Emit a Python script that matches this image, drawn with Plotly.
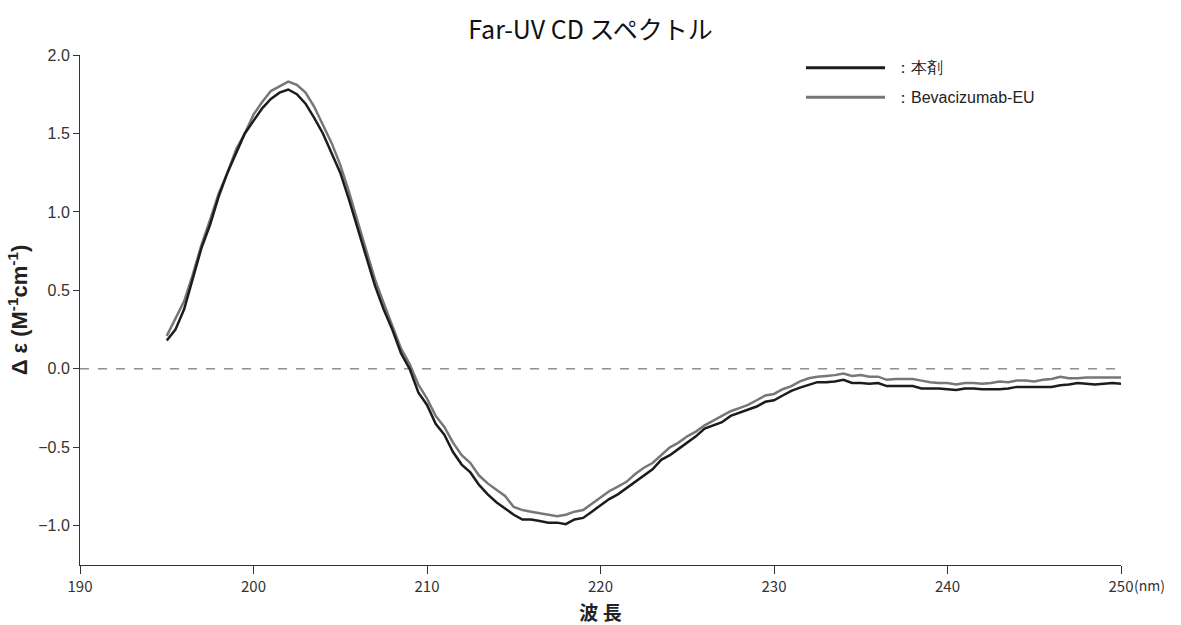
import plotly.graph_objects as go

wavelength = [195 + 0.5 * i for i in range(111)]

honzai = [
    0.18, 0.25, 0.38, 0.58, 0.77, 0.92, 1.10, 1.25, 1.37, 1.50,
    1.58, 1.66, 1.72, 1.76, 1.78, 1.75, 1.69, 1.60, 1.50, 1.38,
    1.25, 1.08, 0.90, 0.72, 0.53, 0.38, 0.25, 0.10, 0.00, -0.15,
    -0.23, -0.35, -0.42, -0.53, -0.61, -0.66, -0.74, -0.80, -0.85, -0.89,
    -0.93, -0.96, -0.96, -0.97, -0.98, -0.98, -0.99, -0.96, -0.95, -0.91,
    -0.87, -0.83, -0.80, -0.76, -0.72, -0.68, -0.64, -0.58, -0.55, -0.51,
    -0.47, -0.43, -0.38, -0.36, -0.34, -0.30, -0.28, -0.26, -0.24, -0.21,
    -0.20, -0.17, -0.14, -0.12, -0.10, -0.085, -0.085, -0.08, -0.07, -0.09,
    -0.09, -0.095, -0.09, -0.11, -0.11, -0.11, -0.11, -0.125, -0.125, -0.125,
    -0.13, -0.135, -0.125, -0.125, -0.13, -0.13, -0.13, -0.125, -0.115, -0.115,
    -0.115, -0.115, -0.115, -0.105, -0.10, -0.09, -0.095, -0.10, -0.095, -0.09,
    -0.095,
]

bevacizumab = [
    0.21, 0.32, 0.43, 0.60, 0.79, 0.95, 1.12, 1.25, 1.40, 1.50,
    1.62, 1.70, 1.77, 1.80, 1.83, 1.81, 1.76, 1.67, 1.56, 1.44,
    1.30, 1.13, 0.94, 0.76, 0.57, 0.42, 0.28, 0.13, 0.03, -0.10,
    -0.19, -0.30, -0.37, -0.47, -0.55, -0.60, -0.68, -0.73, -0.77, -0.81,
    -0.88, -0.90, -0.91, -0.92, -0.93, -0.94, -0.93, -0.91, -0.90, -0.86,
    -0.82, -0.78, -0.75, -0.72, -0.67, -0.63, -0.60, -0.55, -0.50, -0.47,
    -0.43, -0.40, -0.36, -0.33, -0.30, -0.27, -0.25, -0.23, -0.20, -0.17,
    -0.16, -0.13, -0.11, -0.08, -0.06, -0.05, -0.045, -0.04, -0.03, -0.045,
    -0.04, -0.05, -0.05, -0.07, -0.065, -0.065, -0.065, -0.075, -0.085, -0.09,
    -0.09, -0.10, -0.09, -0.09, -0.095, -0.09, -0.08, -0.085, -0.075, -0.075,
    -0.08, -0.07, -0.065, -0.05, -0.06, -0.06, -0.055, -0.055, -0.055, -0.055,
    -0.055,
]

series_names = ["：本剤", "：Bevacizumab-EU"]
series_colors = ["#1c1c1c", "#777777"]
x_ticks = [190, 200, 210, 220, 230, 240, 250]
y_ticks = [-1.0, -0.5, 0.0, 0.5, 1.0, 1.5, 2.0]

CJK = "Noto Sans CJK JP"
SANS = "Liberation Sans, Arial, sans-serif"

fig = go.Figure()
fig.add_trace(go.Scatter(x=wavelength, y=bevacizumab, mode="lines",
                         line=dict(color=series_colors[1], width=2.5),
                         name=series_names[1], showlegend=False))
fig.add_trace(go.Scatter(x=wavelength, y=honzai, mode="lines",
                         line=dict(color=series_colors[0], width=2.5),
                         name=series_names[0], showlegend=False))

# zero dashed line
fig.add_shape(type="line", xref="x", yref="y", x0=190, x1=250, y0=0, y1=0,
              line=dict(color="#555555", width=1, dash="dash"), layer="below")

# legend drawn manually
leg_y = [0.975, 0.917]
for i in range(2):
    fig.add_shape(type="line", xref="paper", yref="paper",
                  x0=(806 - 80) / 1041, x1=(885 - 80) / 1041, y0=leg_y[i], y1=leg_y[i],
                  line=dict(color=series_colors[i], width=3))
    fig.add_annotation(xref="paper", yref="paper", x=(893 - 80) / 1041, y=leg_y[i],
                       text=series_names[i], showarrow=False, xanchor="left",
                       yanchor="middle", font=dict(family=SANS, size=16, color="#222222"))

# (nm) label
fig.add_annotation(xref="paper", yref="paper", x=1.0, y=0, xshift=11, yshift=-20,
                   text="(nm)", showarrow=False, xanchor="left", yanchor="middle",
                   font=dict(family=CJK, size=14, color="#333333"))

fig.update_layout(
    width=1181, height=625,
    margin=dict(l=80, r=60, t=55, b=60, autoexpand=False),
    paper_bgcolor="white", plot_bgcolor="white",
    title=dict(text="Far-UV CD スペクトル", x=0.5, xanchor="center", y=0.952,
               yanchor="middle", font=dict(family=CJK, size=25, color="#111111")),
    font=dict(family=CJK, color="#333333"),
    xaxis=dict(range=[190, 250], tickvals=x_ticks, ticks="outside", ticklen=8,
               tickcolor="#333333", showline=True, linecolor="#333333", linewidth=1,
               showgrid=False, zeroline=False, automargin=False,
               tickfont=dict(family=CJK, size=15, color="#333333"),
               title=dict(text="<b>波 長</b>", standoff=12,
                          font=dict(family=CJK, size=19, color="#222222"))),
    yaxis=dict(range=[-1.25, 2.0], tickvals=y_ticks, tickformat=".1f", ticks="outside",
               ticklen=6, tickcolor="#333333", showline=True, linecolor="#333333",
               linewidth=1, showgrid=False, zeroline=False, automargin=False,
               tickfont=dict(family=SANS, size=16, color="#333333"),
               title=dict(text="<b>Δ ε (M<sup>-1</sup>cm<sup>-1</sup>)</b>", standoff=4,
                          font=dict(family=SANS, size=22, color="#222222"))),
)

fig.write_html("out.html")
